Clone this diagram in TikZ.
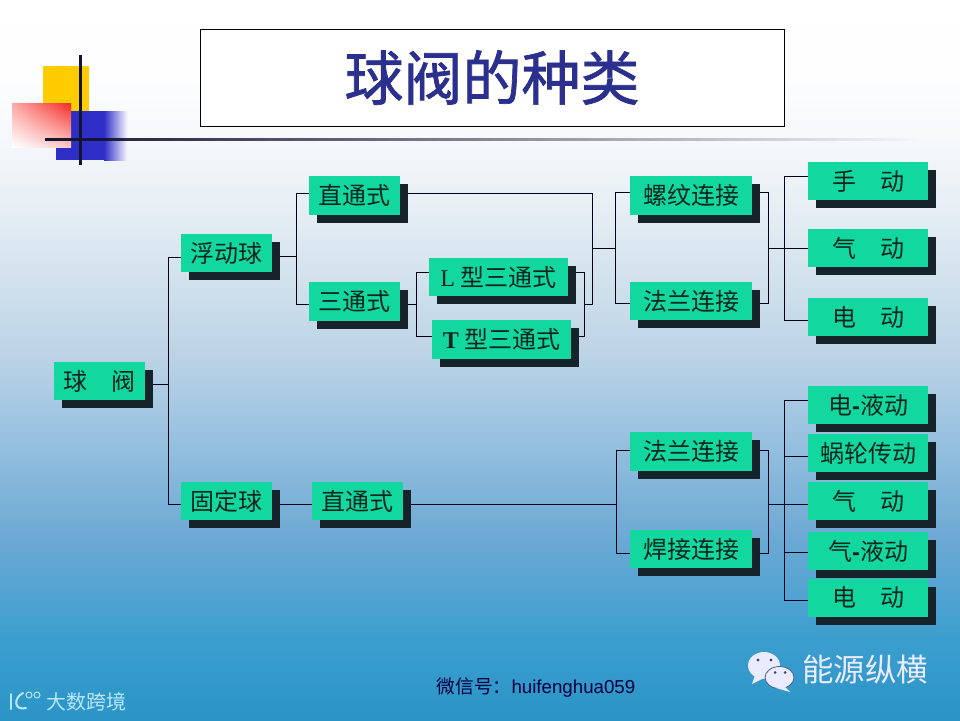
\documentclass[tikz,border=0pt]{standalone}
\usepackage{fontspec}
\setmainfont{Noto Sans CJK SC}
\newfontfamily\titlefont[FakeBold=1.2]{Noto Sans CJK SC}
\newfontfamily\latinserif{Liberation Serif}
\newfontfamily\latinsans{Liberation Sans}
\usetikzlibrary{shadows,fadings,shadings}
\pgfdeclarelayer{paper}
\pgfdeclarelayer{wires}
\pgfsetlayers{paper,wires,main}
\pgfdeclareverticalshading{slidebg}{100bp}{
  rgb(0bp)=(0.17,0.58,0.78);
  rgb(25bp)=(0.17,0.58,0.78);
  rgb(30.5bp)=(0.23,0.62,0.81);
  rgb(37.5bp)=(0.42,0.66,0.83);
  rgb(47.2bp)=(0.66,0.79,0.89);
  rgb(50.5bp)=(0.74,0.83,0.90);
  rgb(61bp)=(0.91,0.94,0.96);
  rgb(65bp)=(0.96,0.97,0.98);
  rgb(70bp)=(0.995,0.995,1);
  rgb(75bp)=(1,1,1);
  rgb(100bp)=(1,1,1)}
\definecolor{boxgreen}{HTML}{12D8A0}
\definecolor{boxshadow}{HTML}{17232B}
\definecolor{boxtext}{HTML}{08261E}
\definecolor{titleblue}{HTML}{2B2F8E}
\definecolor{ornyellow}{HTML}{FFCC00}
\definecolor{ornblue}{HTML}{2F2FC8}
\definecolor{ornred}{HTML}{F42A24}
\definecolor{ornline}{HTML}{14142E}
\tikzset{
  x=1pt,y=-1pt,
  box/.style={fill=boxgreen,text=boxtext,inner sep=0pt,font=\fontsize{24}{26}\selectfont,
    drop shadow={shadow xshift=8pt,shadow yshift=-8pt,fill=boxshadow,opacity=1}},
  sbox/.style={box,minimum width=91pt,minimum height=38.5pt},
  cbox/.style={box,minimum width=122pt,minimum height=38.5pt},
  mbox/.style={box,minimum width=120pt,minimum height=38pt},
  wire/.style={draw=black!90!blue,line width=1pt},
}
\begin{document}
\begin{tikzpicture}
\useasboundingbox (0,0) rectangle (960,720);
\begin{pgfonlayer}{paper}
\shade[shading=slidebg] (0,0) rectangle (960,720);
\end{pgfonlayer}
% ornament
\fill[ornyellow] (43,66) rectangle (89,113);
\fill[ornblue] (56,147) rectangle (104,160);
\fill[ornblue] (71,111) rectangle (104,160);
\shade[left color=ornblue,right color=white] (104,111) rectangle (128,160);
\shade[upper right=ornred,upper left=ornred!40!white,lower right=ornred!25!white,lower left=white] (12,103) rectangle (71,147);
\fill[ornline,path fading=east] (45,138) rectangle (920,140.5);
\fill[ornline] (78.5,55) rectangle (81.5,165);
% title
\node[draw=black,fill=white,line width=1pt,minimum width=584pt,minimum height=97pt,inner sep=0pt,
  text=titleblue,font=\fontsize{59}{60}\titlefont] (title) at (492,77.5) {\raisebox{-2pt}{球阀的种类}};
% nodes
\node[sbox] (root) at (99.5,381) {球\hspace{1em}阀};
\node[sbox] (fd) at (226.5,253) {浮动球};
\node[sbox] (gd) at (226.5,501) {固定球};
\node[sbox] (zt1) at (354.5,195.5) {直通式};
\node[sbox] (st) at (354.5,301.5) {三通式};
\node[sbox] (zt2) at (357.5,501) {直通式};
\node[box,minimum width=139pt,minimum height=38pt] (lx) at (498.5,277) {{\latinserif L} 型三通式};
\node[box,minimum width=139pt,minimum height=39pt] (tx) at (501.5,339.5) {{\latinserif\bfseries T} 型三通式};
\node[cbox] (lw) at (691,195.5) {螺纹连接};
\node[cbox] (fl1) at (691,301) {法兰连接};
\node[cbox] (fl2) at (691,451.5) {法兰连接};
\node[cbox] (hj) at (691,549) {焊接连接};
\node[mbox] (sd) at (868,181) {手\hspace{1em}动};
\node[mbox] (qd1) at (868,248) {气\hspace{1em}动};
\node[mbox] (dd1) at (868,317) {电\hspace{1em}动};
\node[mbox] (dy) at (868,405) {电{\latinsans\bfseries -}液动};
\node[mbox] (wl) at (868,453) {蜗轮传动};
\node[mbox] (qd2) at (868,501) {气\hspace{1em}动};
\node[mbox] (qy) at (868,551) {气{\latinsans\bfseries -}液动};
\node[mbox] (dd2) at (868,597.5) {电\hspace{1em}动};
% junctions
\coordinate (a0) at (168,384); \coordinate (a1) at (168,257); \coordinate (a2) at (168,504);
\coordinate (b0) at (296,256); \coordinate (b1) at (296,193); \coordinate (b2) at (296,304);
\coordinate (c0) at (416,304); \coordinate (c1) at (416,272); \coordinate (c2) at (416,336);
\coordinate (d1) at (584,272); \coordinate (d2) at (584,336);
\coordinate (e1) at (592,193); \coordinate (e2) at (592,304); \coordinate (e0) at (592,248);
\coordinate (f0) at (615,248); \coordinate (f1) at (615,192); \coordinate (f2) at (615,303);
\coordinate (g1) at (768,192); \coordinate (g2) at (768,303); \coordinate (g0) at (768,248);
\coordinate (h0) at (784,248); \coordinate (h1) at (784,176); \coordinate (h2) at (784,320);
\coordinate (i0) at (616,504); \coordinate (i1) at (616,450); \coordinate (i2) at (616,553);
\coordinate (j1) at (768,450); \coordinate (j2) at (768,553); \coordinate (j0) at (768,504);
\coordinate (k1) at (784,400); \coordinate (k2) at (784,456); \coordinate (k3) at (784,504);
\coordinate (k4) at (784,552); \coordinate (k5) at (784,600);
\begin{pgfonlayer}{wires}
\path[wire] (root.east |- a0) -- (a0);
\path[wire] (fd.west |- a1) -- (a1) -- (a2) -- (gd.west |- a2);
\path[wire] (fd.east |- b0) -- (b0);
\path[wire] (zt1.west |- b1) -- (b1) -- (b2) -- (st.west |- b2);
\path[wire] (st.east |- c0) -- (c0);
\path[wire] (lx.west |- c1) -- (c1) -- (c2) -- (tx.west |- c2);
\path[wire] (lx.east |- d1) -- (d1) -- (d2) -- (tx.east |- d2);
\path[wire] (zt1.east |- e1) -- (e1) -- (e2) -- (d1 |- e2);
\path[wire] (e0) -- (f0);
\path[wire] (lw.west |- f1) -- (f1) -- (f2) -- (fl1.west |- f2);
\path[wire] (lw.east |- g1) -- (g1) -- (g2) -- (fl1.east |- g2);
\path[wire] (g0) -- (qd1.west |- g0);
\path[wire] (sd.west |- h1) -- (h1) -- (h2) -- (dd1.west |- h2);
\path[wire] (gd.east |- a2) -- (zt2.west |- a2);
\path[wire] (zt2.east |- i0) -- (i0);
\path[wire] (fl2.west |- i1) -- (i1) -- (i2) -- (hj.west |- i2);
\path[wire] (fl2.east |- j1) -- (j1) -- (j2) -- (hj.east |- j2);
\path[wire] (j0) -- (qd2.west |- j0);
\path[wire] (dy.west |- k1) -- (k1) -- (k5) -- (dd2.west |- k5);
\path[wire] (k2) -- (wl.west |- k2);
\path[wire] (k4) -- (qy.west |- k4);
\end{pgfonlayer}
% bottom text
\node[text=black!75!blue,inner sep=0pt,font=\fontsize{18.7}{20}\selectfont] (wx) at (536,688) {微信号：{\latinsans huifenghua059}};
\node[text=white!92!blue,inner sep=0pt,font=\fontsize{31.5}{33}\selectfont] (ny) at (865,670) {能源纵横};
\node[text=white!72!cyan,inner sep=0pt,font=\fontsize{20}{22}\selectfont] (ds) at (86,702) {大数跨境};
\fill[white!92!blue] (764,665.5) ellipse (16 and 13.5);
\fill[white!92!blue] (755,675) -- (752,684) -- (764,678) -- cycle;
\draw[fill=white!92!blue,draw=cyan!45!blue!70!black,line width=0.8pt] (779.5,677.5) ellipse (14.5 and 11);
\fill[white!92!blue] (784,686) -- (790,692) -- (776,688) -- cycle;
\fill[black!70] (758,660) circle (1.7) (771,660) circle (1.7) (775,672.5) circle (1.5) (785,672.5) circle (1.5);
\draw[white!72!cyan,line width=2pt,line cap=round] (11,694) -- (11,709);
\draw[white!72!cyan,line width=2pt,line cap=round] (23,693) .. controls (13,698) and (14,711) .. (26,708);
\draw[white!72!cyan,line width=1pt] (29,695) circle (3) (37,695) circle (3);
\end{tikzpicture}
\end{document}
